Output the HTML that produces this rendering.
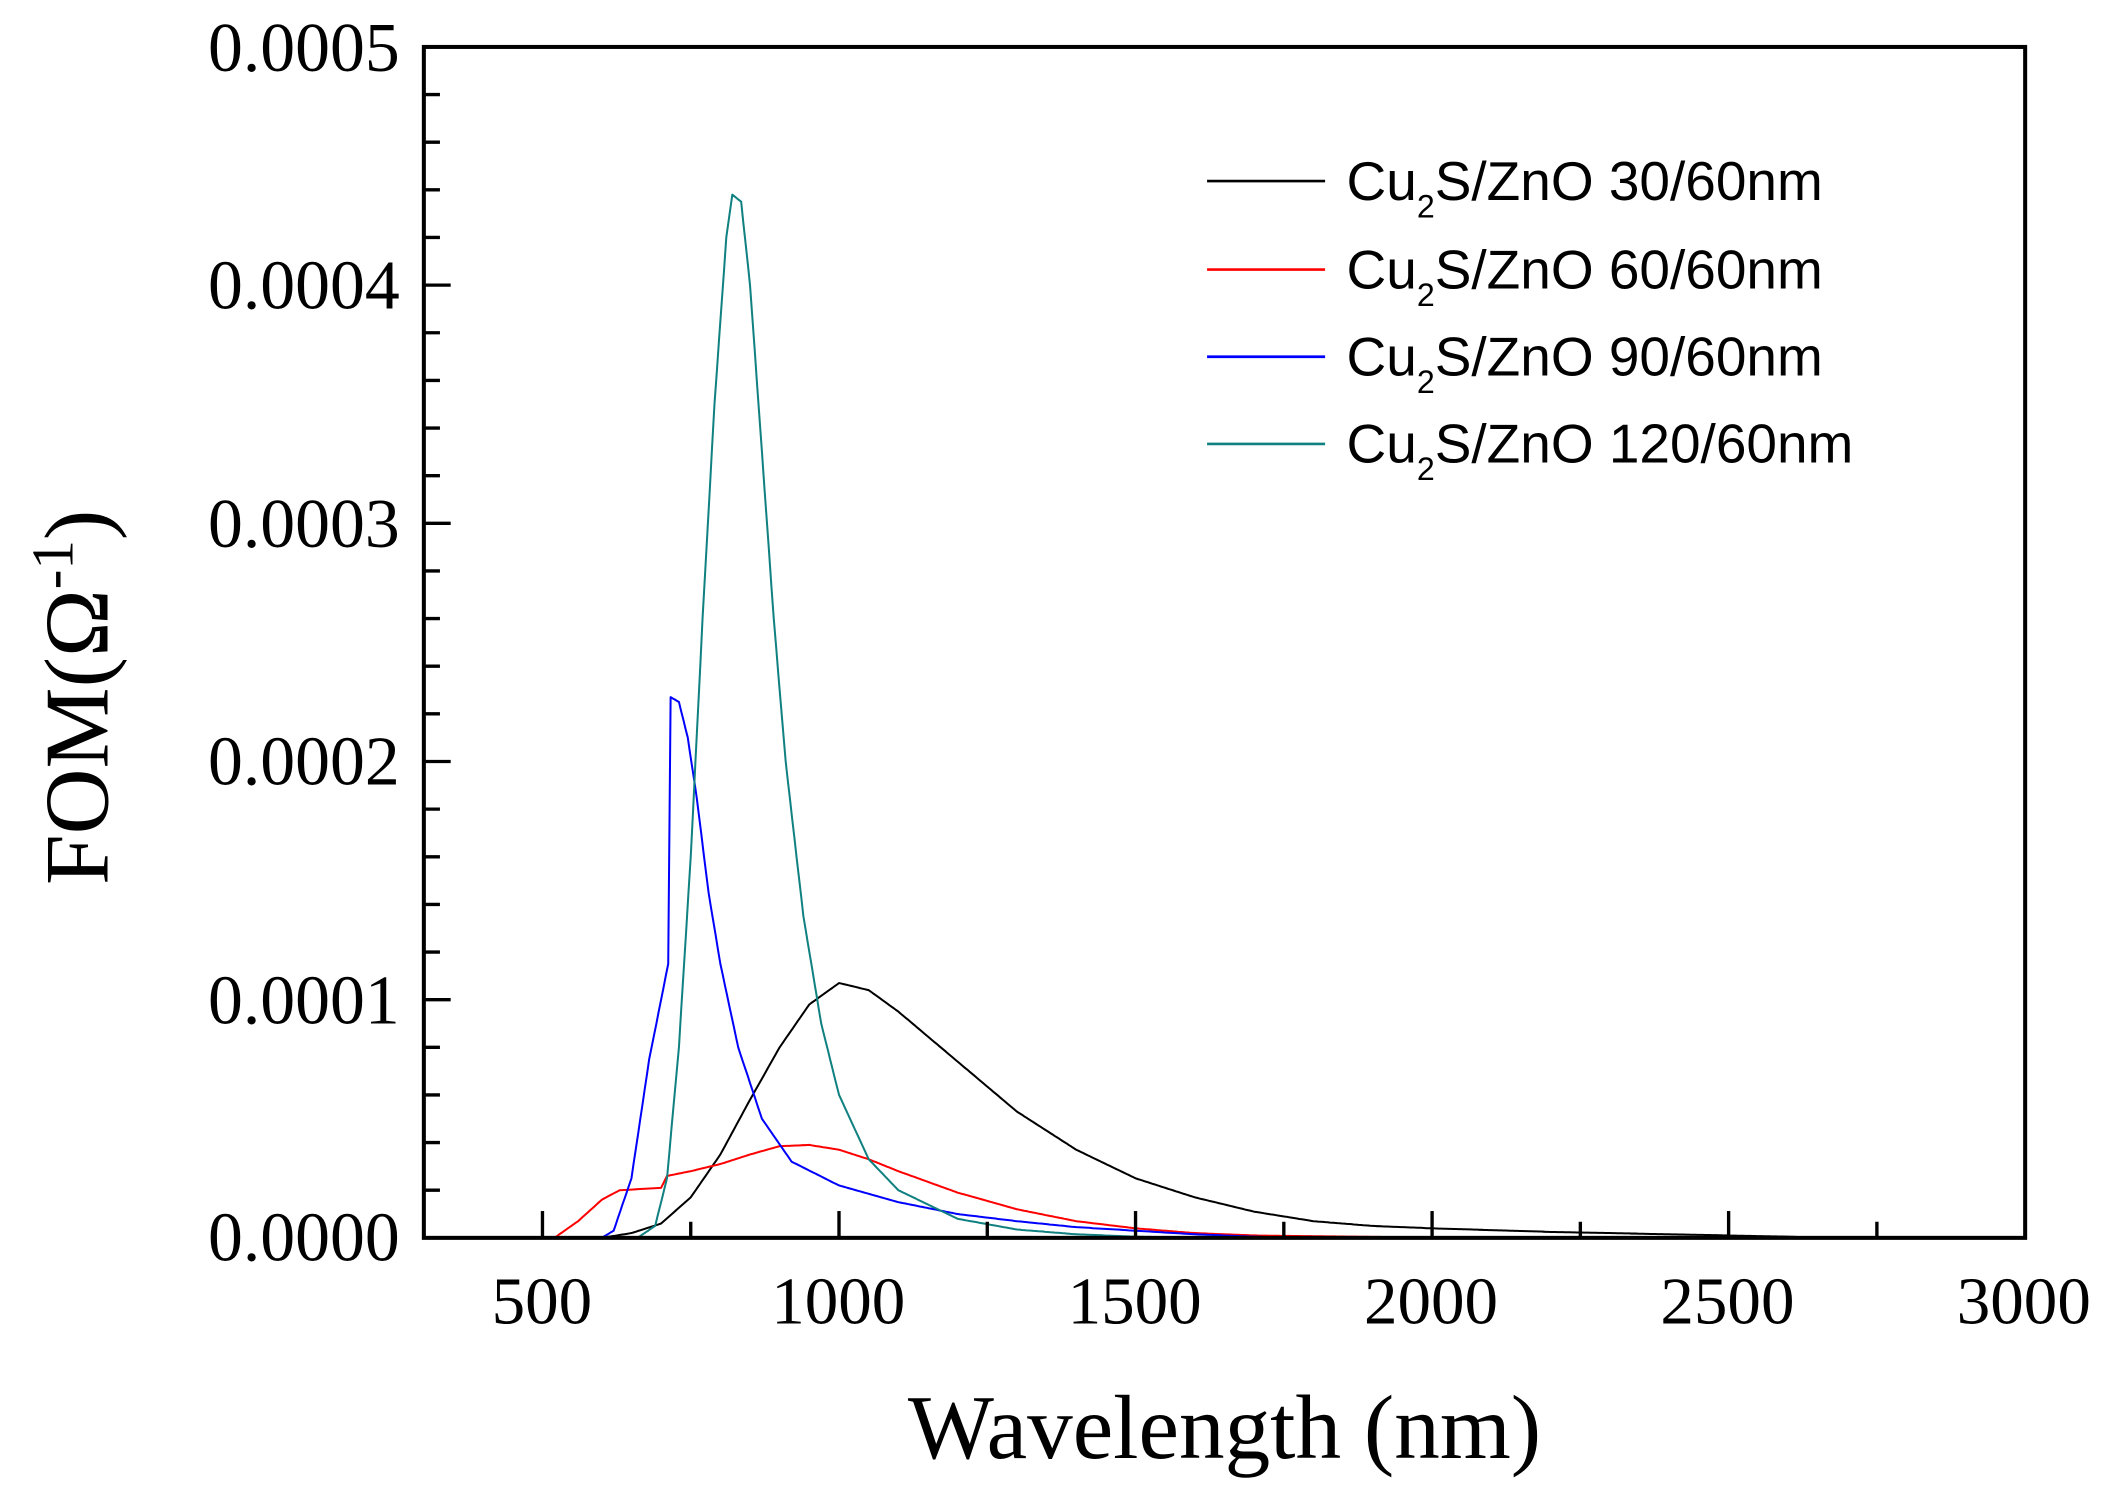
<!DOCTYPE html>
<html><head><meta charset="utf-8"><style>html,body{margin:0;padding:0;background:#fff}svg{display:block}</style></head>
<body>
<svg id="s" width="2103" height="1492" viewBox="0 0 1568 1112.5" xmlns="http://www.w3.org/2000/svg">
<rect x="0" y="0" width="1568" height="1113" fill="#fff"/>
<g id="curves" fill="none" stroke-width="1.5" stroke-linejoin="round"></g>
<rect x="316" y="35" width="1194" height="888" fill="none" stroke="#000" stroke-width="3"/>
<g id="ticks" stroke="#000" stroke-width="2.5"></g>
<g font-family="Liberation Serif, serif" font-size="52" fill="#000" text-anchor="end">
<text x="298" y="940">0.0000</text>
<text x="298" y="763">0.0001</text>
<text x="298" y="585">0.0002</text>
<text x="298" y="408">0.0003</text>
<text x="298" y="230">0.0004</text>
<text x="298" y="53">0.0005</text>
</g>
<g font-family="Liberation Serif, serif" font-size="50" fill="#000" text-anchor="middle">
<text x="404" y="987">500</text>
<text x="625" y="987">1000</text>
<text x="846" y="987">1500</text>
<text x="1067" y="987">2000</text>
<text x="1288" y="987">2500</text>
<text x="1509" y="987">3000</text>
</g>
<text x="913" y="1087" font-family="Liberation Serif, serif" font-size="68" text-anchor="middle">Wavelength (nm)</text>
<text transform="translate(80,520) rotate(-90)" font-family="Liberation Serif, serif" font-size="68" text-anchor="middle">FOM(Ω<tspan font-size="44" dy="-26">-1</tspan><tspan dy="26">)</tspan></text>
<g stroke-width="2">
<line x1="900" y1="135" x2="988" y2="135" stroke="#000"/>
<line x1="900" y1="201" x2="988" y2="201" stroke="#f00"/>
<line x1="900" y1="266" x2="988" y2="266" stroke="#00f"/>
<line x1="900" y1="331" x2="988" y2="331" stroke="#108080"/>
</g>
<g font-family="Liberation Sans, sans-serif" font-size="41" fill="#000">
<text x="1004" y="149">Cu<tspan font-size="24" dy="13">2</tspan><tspan dy="-13">S/ZnO 30/60nm</tspan></text>
<text x="1004" y="215">Cu<tspan font-size="24" dy="13">2</tspan><tspan dy="-13">S/ZnO 60/60nm</tspan></text>
<text x="1004" y="280">Cu<tspan font-size="24" dy="13">2</tspan><tspan dy="-13">S/ZnO 90/60nm</tspan></text>
<text x="1004" y="345">Cu<tspan font-size="24" dy="13">2</tspan><tspan dy="-13">S/ZnO 120/60nm</tspan></text>
</g>
</svg>
<script>
var X=function(w){return 316+(w-300)*1194/2700;};
var Y=function(v){return 923-v*1e4*177.6;};
var series=[
["#000",[[600,0],[650,0.02],[700,0.06],[750,0.17],[800,0.35],[850,0.58],[900,0.8],[950,0.98],[1000,1.07],[1050,1.04],[1100,0.95],[1200,0.74],[1300,0.53],[1400,0.37],[1500,0.25],[1600,0.17],[1700,0.11],[1800,0.07],[1900,0.05],[2000,0.04],[2200,0.025],[2400,0.015],[2600,0.005],[2650,0]]],
["#f00",[[520,0],[560,0.07],[600,0.16],[630,0.2],[700,0.21],[710,0.26],[750,0.28],[800,0.31],[850,0.35],[900,0.385],[950,0.39],[1000,0.37],[1050,0.33],[1100,0.28],[1200,0.19],[1300,0.12],[1400,0.07],[1500,0.04],[1600,0.02],[1700,0.01],[1900,0.004],[2050,0]]],
["#00f",[[600,0],[620,0.03],[650,0.25],[680,0.75],[700,1.0],[712,1.15],[716,2.27],[730,2.25],[745,2.1],[760,1.85],[780,1.45],[800,1.15],[830,0.8],[870,0.5],[920,0.32],[1000,0.22],[1100,0.15],[1200,0.1],[1300,0.07],[1400,0.045],[1500,0.03],[1600,0.015],[1700,0.005],[1750,0]]],
["#108080",[[660,0],[690,0.05],[710,0.25],[730,0.8],[750,1.6],[770,2.6],[790,3.5],[810,4.2],[820,4.38],[835,4.35],[850,4.0],[870,3.3],[890,2.6],[910,2.0],[940,1.35],[970,0.9],[1000,0.6],[1050,0.33],[1100,0.2],[1200,0.08],[1300,0.035],[1400,0.015],[1500,0.005],[1600,0]]]
];
var g=document.getElementById('curves'),ns="http://www.w3.org/2000/svg";
series.forEach(function(s){var d="",p=s[1];
for(var i=0;i<p.length-1;i++){var a=p[i],b=p[i+1];var n=Math.max(1,Math.round((b[0]-a[0])/4));
for(var k=0;k<n;k++){var t=k/n;var w=a[0]+(b[0]-a[0])*t,v=a[1]+(b[1]-a[1])*t;
d+=(d?"L":"M")+X(w).toFixed(1)+" "+Y(v*1e-4).toFixed(1);}}
var l=p[p.length-1];d+="L"+X(l[0]).toFixed(1)+" "+Y(l[1]*1e-4).toFixed(1);
var e=document.createElementNS(ns,'path');e.setAttribute('d',d);e.setAttribute('stroke',s[0]);g.appendChild(e);});
var tk=document.getElementById('ticks'),h="";
for(var w=500;w<3000;w+=250){var x=X(w);h+='<line x1="'+x+'" y1="923" x2="'+x+'" y2="'+(w%500==0?903:911)+'"/>';}
for(var i=1;i<25;i++){var y=923-i*888/25;h+='<line x1="316" y1="'+y+'" x2="'+(i%5==0?336:328)+'" y2="'+y+'"/>';}
tk.innerHTML=h;
</script>
</body></html>
